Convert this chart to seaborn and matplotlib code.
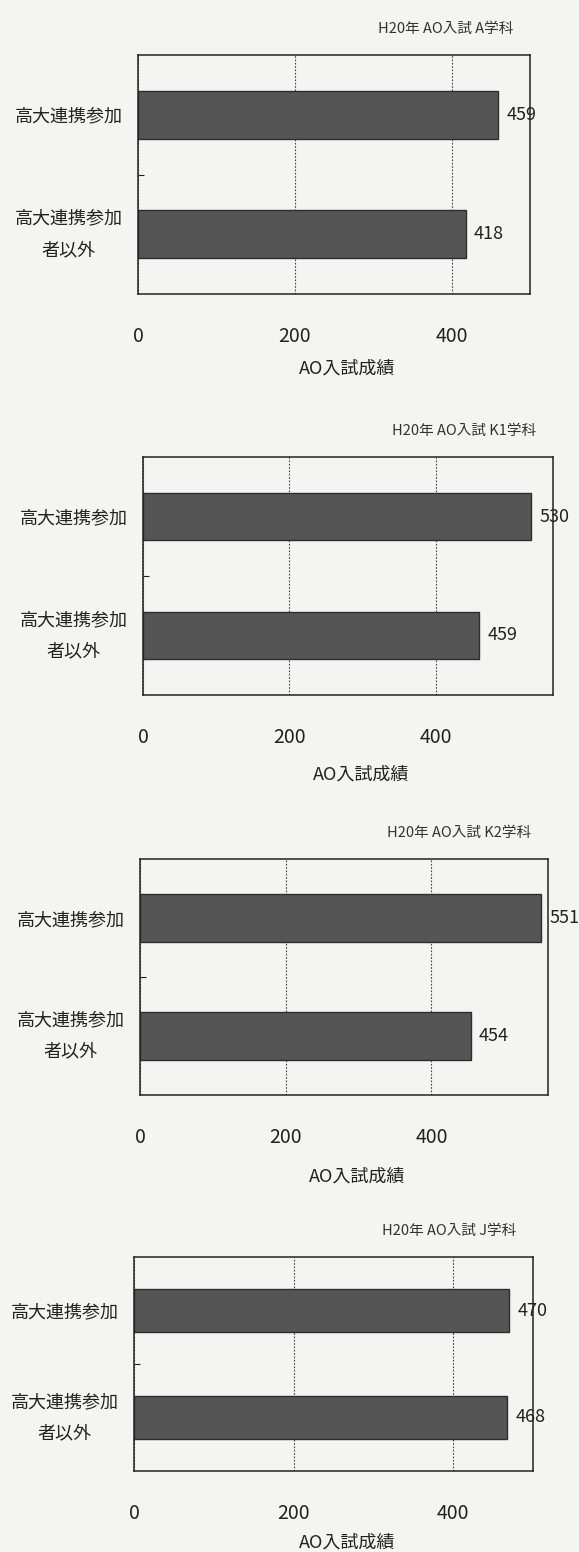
import matplotlib
matplotlib.use("Agg")
import matplotlib.pyplot as plt
import seaborn as sns
import pandas as pd

# ---- data -------------------------------------------------------------
departments = ["A学科", "K1学科", "K2学科", "J学科"]
groups = ["高大連携参加", "高大連携参加\n者以外"]
scores_participants = [459, 530, 551, 470]
scores_others = [418, 459, 454, 468]
x_limits = [500, 560, 560, 500]
x_ticks = [0, 200, 400]
title_prefix = "H20年 AO入試 "
x_label = "AO入試成績"

rows = []
for dept, a, b in zip(departments, scores_participants, scores_others):
    rows.append({"dept": dept, "group": groups[0], "score": a})
    rows.append({"dept": dept, "group": groups[1], "score": b})
df = pd.DataFrame(rows)

# ---- style ------------------------------------------------------------
sns.set_theme(style="white")
plt.rcParams["font.family"] = ["Noto Sans CJK JP", "DejaVu Sans"]

W, H = 579, 1552
DPI = 100
BG = "#f4f4f2"
BAR = "#555555"
EDGE = "#2e2e2e"
INK = "#222222"

fig = plt.figure(figsize=(W / DPI, H / DPI), dpi=DPI, facecolor=BG)

# axes boxes in pixels: left, top, right, bottom
boxes = [
    (138, 55, 530, 294),
    (143, 457, 553, 695),
    (140, 859, 548, 1095),
    (134, 1257, 533, 1471),
]
# distance (px) from the bottom spine to the top of the x-axis label
label_drop = [66, 71, 73, 63]


def fig_rect(l, t, r, b):
    return [l / W, 1 - b / H, (r - l) / W, (b - t) / H]


for i, dept in enumerate(departments):
    l, t, r, b = boxes[i]
    ax = fig.add_axes(fig_rect(l, t, r, b))
    ax.set_facecolor(BG)
    sub = df[df["dept"] == dept]
    sns.barplot(data=sub, x="score", y="group", order=groups, orient="h",
                color=BAR, saturation=1, width=0.4, edgecolor=EDGE,
                linewidth=1.0, ax=ax)
    ax.set_xlim(0, x_limits[i])
    ax.set_ylim(1.5, -0.5)
    ax.set_xticks(x_ticks)
    ax.set_xticklabels([str(v) for v in x_ticks])
    ax.tick_params(axis="x", length=0, pad=23, labelsize=14, labelcolor=INK)
    ax.tick_params(axis="y", length=0, pad=11, labelsize=13, labelcolor=INK)
    for lab in ax.get_yticklabels():
        lab.set_multialignment("center")
        if "\n" in lab.get_text():
            lab.set_linespacing(1.95)
            lab.set_verticalalignment("center")
    # small inward marks at the category boundary
    ax.set_yticks([0.5], minor=True)
    ax.tick_params(axis="y", which="minor", direction="in", length=4,
                   width=0.8, color=INK, left=True)

    ax.grid(axis="x", linestyle=(0, (1.5, 1.5)), color="#444444", linewidth=0.8)
    ax.set_axisbelow(True)
    for side in ["left", "right", "top", "bottom"]:
        ax.spines[side].set_visible(True)
        ax.spines[side].set_color(INK)
        ax.spines[side].set_linewidth(1.1)

    ax.set_ylabel("")
    ax.set_xlabel(x_label, fontsize=13, color=INK)
    ax.xaxis.set_label_coords(0.533, -label_drop[i] / (b - t))

    for cont in ax.containers:
        ax.bar_label(cont, fmt="%d", padding=6, fontsize=13, color=INK)

    ax.annotate(title_prefix + dept, xy=(1, 1), xycoords="axes fraction",
                xytext=(-12, 19), textcoords="offset points",
                ha="right", va="center", fontsize=10.5, color="#333333")

fig.savefig("out.png", dpi=DPI, facecolor=BG)
